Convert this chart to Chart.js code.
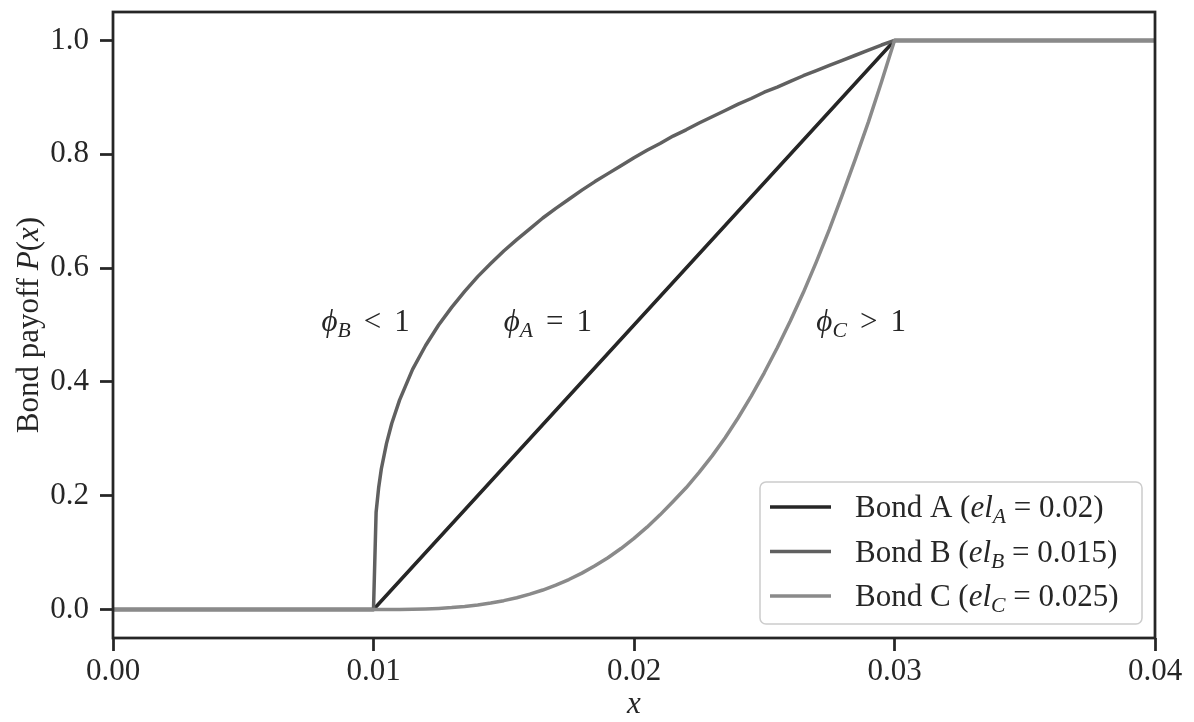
<!DOCTYPE html>
<html>
<head>
<meta charset="utf-8">
<script src="https://cdn.jsdelivr.net/npm/chart.js@4.4.0/dist/chart.umd.min.js"></script>
<style>
  html, body { margin: 0; padding: 0; background: #fff; }
  #wrap { width: 1194px; height: 722px; }
</style>
</head>
<body>
<div id="wrap"><canvas id="payoff" width="1194" height="722"></canvas></div>
<script>
// payoff curves P(x)
const bondA_x = [0, 0.01, 0.03, 0.04];
const bondA_y = [0, 0, 1, 1];

const bondB_x = [0, 0.01, 0.0101, 0.0102, 0.0103, 0.0105, 0.0107, 0.011, 0.0115,
                 0.012, 0.0125, 0.013, 0.0135, 0.014, 0.0145, 0.015, 0.0155, 0.016, 0.0165,
                 0.017, 0.0175, 0.018, 0.0185, 0.019, 0.0195, 0.02, 0.0205, 0.021, 0.0215,
                 0.022, 0.0225, 0.023, 0.0235, 0.024, 0.0245, 0.025, 0.0255, 0.026, 0.0265,
                 0.027, 0.0275, 0.028, 0.0285, 0.029, 0.0295, 0.03, 0.04];
const bondB_y = [0, 0, 0.171, 0.215, 0.247, 0.292, 0.327, 0.368, 0.422,
                 0.464, 0.500, 0.531, 0.559, 0.585, 0.608, 0.630, 0.650, 0.669, 0.688,
                 0.705, 0.721, 0.737, 0.752, 0.766, 0.780, 0.794, 0.807, 0.819, 0.832,
                 0.843, 0.855, 0.866, 0.877, 0.888, 0.898, 0.909, 0.918, 0.928, 0.938,
                 0.947, 0.956, 0.965, 0.974, 0.983, 0.992, 1, 1];

const bondC_x = [0, 0.01, 0.0105, 0.011, 0.0115, 0.012, 0.0125, 0.013, 0.0135, 0.014,
                 0.0145, 0.015, 0.0155, 0.016, 0.0165, 0.017, 0.0175, 0.018, 0.0185,
                 0.019, 0.0195, 0.02, 0.0205, 0.021, 0.0215, 0.022, 0.0225, 0.023, 0.0235,
                 0.024, 0.0245, 0.025, 0.0255, 0.026, 0.0265, 0.027, 0.0275, 0.028, 0.0285,
                 0.029, 0.0295, 0.03, 0.04];
const bondC_y = [0, 0, 0, 0.0001, 0.0004, 0.001, 0.002, 0.0034, 0.0054, 0.008,
                 0.0114, 0.0156, 0.0208, 0.027, 0.0343, 0.0429, 0.0527, 0.064, 0.0768,
                 0.0911, 0.1072, 0.125, 0.1447, 0.1664, 0.190, 0.214, 0.241, 0.270, 0.302,
                 0.337, 0.375, 0.416, 0.460, 0.507, 0.557, 0.611, 0.668, 0.729, 0.792,
                 0.857, 0.927, 1, 1];

const xTicks = [0, 0.01, 0.02, 0.03, 0.04];
const yTicks = [0, 0.2, 0.4, 0.6, 0.8, 1.0];

const INK = '#262626';
const SERIF = '"Liberation Serif", "DejaVu Serif", serif';
const FS = 31;

function puntos(xs, ys) { return xs.map((x, i) => ({ x: x, y: ys[i] })); }

// texto con partes en cursiva, subíndices y espacios de fórmula (gap en em)
function fuente(ctx, p, fs) {
    const size = p.sub ? fs * 0.7 : fs;
    ctx.font = `${p.it ? 'italic ' : ''}${size}px ${SERIF}`;
}
function medir(ctx, partes, fs) {
    let w = 0;
    partes.forEach(p => {
        fuente(ctx, p, fs);
        w += ctx.measureText(p.t).width + (p.gap || 0) * fs * 2;
    });
    return w;
}
function textoRico(ctx, partes, x, y, fs, align) {
    let cx = align === 'center' ? x - medir(ctx, partes, fs) / 2 : x;
    ctx.textBaseline = 'alphabetic';
    ctx.textAlign = 'left';
    ctx.fillStyle = INK;
    partes.forEach(p => {
        fuente(ctx, p, fs);
        cx += (p.gap || 0) * fs;
        ctx.fillText(p.t, cx, p.sub ? y + fs * 0.2 : y);
        cx += ctx.measureText(p.t).width + (p.gap || 0) * fs;
    });
}

const etiquetas = [
    { x: 0.008, y: 0.5, partes: [{ t: 'ϕ', it: true }, { t: 'B', it: true, sub: true }, { t: '<', gap: 0.42 }, { t: '1' }] },
    { x: 0.015, y: 0.5, partes: [{ t: 'ϕ', it: true }, { t: 'A', it: true, sub: true }, { t: '=', gap: 0.42 }, { t: '1' }] },
    { x: 0.027, y: 0.5, partes: [{ t: 'ϕ', it: true }, { t: 'C', it: true, sub: true }, { t: '>', gap: 0.42 }, { t: '1' }] }
];

const leyenda = [
    { color: '#262626', partes: [{ t: 'Bond A (' }, { t: 'el', it: true }, { t: 'A', it: true, sub: true }, { t: '=', gap: 0.25 }, { t: '0.02)' }] },
    { color: '#606060', partes: [{ t: 'Bond B (' }, { t: 'el', it: true }, { t: 'B', it: true, sub: true }, { t: '=', gap: 0.25 }, { t: '0.015)' }] },
    { color: '#8a8a8a', partes: [{ t: 'Bond C (' }, { t: 'el', it: true }, { t: 'C', it: true, sub: true }, { t: '=', gap: 0.25 }, { t: '0.025)' }] }
];

const decorado = {
    id: 'decorado',
    afterDatasetsDraw(chart) {
        const ctx = chart.ctx;
        const a = chart.chartArea;
        const sx = chart.scales.x, sy = chart.scales.y;
        ctx.save();

        // marco
        ctx.strokeStyle = INK;
        ctx.lineWidth = 2.75;
        ctx.strokeRect(a.left, a.top, a.right - a.left, a.bottom - a.top);

        // anotaciones phi
        etiquetas.forEach(e => {
            textoRico(ctx, e.partes, sx.getPixelForValue(e.x), sy.getPixelForValue(e.y) + 6, FS, 'left');
        });

        // leyenda
        const bx = a.right - 13 - 382, by = a.bottom - 14 - 142;
        ctx.beginPath();
        ctx.roundRect(bx, by, 382, 142, 6);
        ctx.fillStyle = 'rgba(255,255,255,0.8)';
        ctx.fill();
        ctx.strokeStyle = '#cccccc';
        ctx.lineWidth = 1.5;
        ctx.stroke();
        leyenda.forEach((l, i) => {
            const ly = by + 25 + i * 44.5;
            ctx.beginPath();
            ctx.moveTo(bx + 10, ly);
            ctx.lineTo(bx + 71, ly);
            ctx.strokeStyle = l.color;
            ctx.lineWidth = 3.5;
            ctx.stroke();
            textoRico(ctx, l.partes, bx + 95, ly + 10, FS, 'left');
        });

        // títulos de ejes
        textoRico(ctx, [{ t: 'x', it: true }], (a.left + a.right) / 2, 713, FS, 'center');
        ctx.translate(38, (a.top + a.bottom) / 2);
        ctx.rotate(-Math.PI / 2);
        textoRico(ctx, [{ t: 'Bond payoff ' }, { t: 'P', it: true }, { t: '(' }, { t: 'x', it: true }, { t: ')' }], 0, 0, FS, 'center');
        ctx.restore();
    }
};

const serie = (xs, ys, color, orden) => ({
    data: puntos(xs, ys),
    borderColor: color,
    borderWidth: 3.5,
    pointRadius: 0,
    showLine: true,
    tension: 0,
    fill: false,
    order: orden,
    borderCapStyle: 'butt',
    borderJoinStyle: 'round'
});

new Chart(document.getElementById('payoff'), {
    type: 'scatter',
    data: {
        datasets: [
            serie(bondA_x, bondA_y, '#262626', 3),
            serie(bondB_x, bondB_y, '#606060', 2),
            serie(bondC_x, bondC_y, '#8a8a8a', 1)
        ]
    },
    options: {
        responsive: false,
        animation: false,
        layout: { padding: { top: 12, right: 39, left: 0, bottom: 0 } },
        plugins: { legend: { display: false }, tooltip: { enabled: false } },
        scales: {
            x: {
                type: 'linear', min: 0, max: 0.04,
                afterFit: s => { s.height = 84; s.paddingLeft = 0; s.paddingRight = 0; },
                afterBuildTicks: s => { s.ticks = xTicks.map(v => ({ value: v })); },
                ticks: { color: INK, font: { family: SERIF, size: FS }, padding: 2, maxRotation: 0,
                         callback: v => v.toFixed(2) },
                grid: { drawOnChartArea: false, drawTicks: true, tickLength: 13, tickWidth: 2.75, tickColor: INK },
                border: { display: false }
            },
            y: {
                type: 'linear', min: -0.05, max: 1.05,
                afterFit: s => { s.width = 113; s.paddingTop = 0; s.paddingBottom = 0; },
                afterBuildTicks: s => { s.ticks = yTicks.map(v => ({ value: v })); },
                ticks: { color: INK, font: { family: SERIF, size: FS }, padding: 11,
                         callback: v => v.toFixed(1) },
                grid: { drawOnChartArea: false, drawTicks: true, tickLength: 13, tickWidth: 2.75, tickColor: INK },
                border: { display: false }
            }
        }
    },
    plugins: [decorado]
});
</script>
</body>
</html>
